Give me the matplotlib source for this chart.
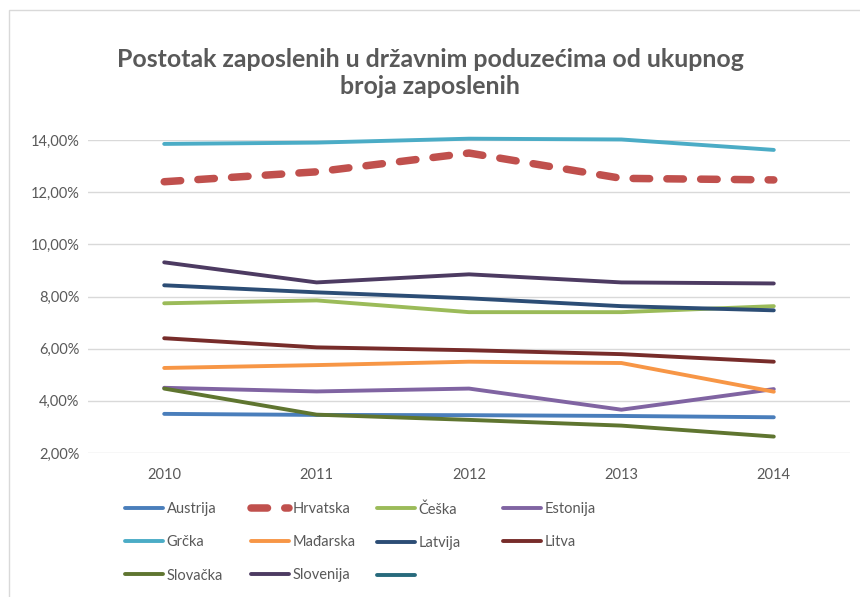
import matplotlib.pyplot as plt
from matplotlib.patches import Rectangle
from matplotlib.ticker import FuncFormatter

plt.rcParams['font.family'] = ['Lato', 'DejaVu Sans']

# Podaci (procijenjeno iz grafa), u postocima
godine = ["2010", "2011", "2012", "2013", "2014"]
austrija = [3.50, 3.46, 3.45, 3.42, 3.37]
hrvatska = [12.40, 12.78, 13.50, 12.53, 12.47]
ceska = [7.74, 7.85, 7.40, 7.40, 7.63]
estonija = [4.50, 4.36, 4.47, 3.66, 4.45]
grcka = [13.85, 13.90, 14.05, 14.02, 13.62]
madarska = [5.26, 5.37, 5.50, 5.45, 4.35]
latvija = [8.43, 8.16, 7.93, 7.63, 7.47]
litva = [6.40, 6.05, 5.94, 5.79, 5.50]
slovacka = [4.47, 3.47, 3.27, 3.05, 2.63]
slovenija = [9.31, 8.54, 8.85, 8.54, 8.50]

serije = [
    ("Austrija", austrija, "#4A7EBB"),
    ("Hrvatska", hrvatska, "#C0504D"),
    ("Češka", ceska, "#9BBB59"),
    ("Estonija", estonija, "#8064A2"),
    ("Grčka", grcka, "#4BACC6"),
    ("Mađarska", madarska, "#F79646"),
    ("Latvija", latvija, "#2C4D75"),
    ("Litva", litva, "#772C2A"),
    ("Slovačka", slovacka, "#5F7530"),
    ("Slovenija", slovenija, "#4D3B62"),
    (" ", None, "#276A7C"),
]

siva = "#595959"

fig = plt.figure(figsize=(8.6, 5.97), dpi=100)
ax = fig.add_axes([88 / 860, 1 - 453 / 597, (850 - 88) / 860, (453 - 140) / 597])

# okvir grafikona
fig.patches.append(Rectangle((9 / 860, -0.1), 1.2, 1 - 10 / 597 + 0.1, transform=fig.transFigure,
                             fill=False, edgecolor="#D9D9D9", lw=1))

x = list(range(len(godine)))
handles = []
for ime, vrijednosti, boja in serije:
    if vrijednosti is None:
        h, = ax.plot([], [], color=boja, lw=2.8, solid_capstyle="round", label=ime)
    elif ime == "Hrvatska":
        h, = ax.plot(x, vrijednosti, color=boja, lw=5.4, dashes=(2.2, 2.3),
                     dash_capstyle="round", clip_on=False, label=ime, zorder=3)
    else:
        h, = ax.plot(x, vrijednosti, color=boja, lw=2.8, solid_capstyle="round",
                     solid_joinstyle="round", clip_on=False, label=ime, zorder=3)
    handles.append(h)

ax.set_xlim(-0.5, 4.5)
ax.set_ylim(2, 14)
ax.set_yticks([2, 4, 6, 8, 10, 12, 14])
ax.yaxis.set_major_formatter(FuncFormatter(lambda v, p: f"{v:.2f}%".replace(".", ",")))
ax.set_xticks(x)
ax.set_xticklabels(godine)
ax.grid(axis="y", color="#D9D9D9", lw=1)
ax.set_axisbelow(True)
for s in ax.spines.values():
    s.set_visible(False)
ax.tick_params(length=0, colors=siva, labelsize=10.5)
ax.tick_params(axis="x", pad=11)
ax.tick_params(axis="y", pad=6)

fig.text(0.5, 1 - 73 / 597, "Postotak zaposlenih u državnim poduzećima od ukupnog\nbroja zaposlenih",
         ha="center", va="center", fontsize=17.9, fontweight="bold", color=siva, linespacing=1.2)

# legenda: Excel ide po redovima, 4 stupca
for k in range(4):
    stupac = handles[k::4]
    leg = fig.legend(handles=stupac, labels=[h.get_label() for h in stupac],
                     loc="upper left", frameon=False, fontsize=10.5, handlelength=2.6,
                     handletextpad=0.25, labelspacing=1.32, borderaxespad=0, borderpad=0)
    leg.set_bbox_to_anchor(((125 + 126 * k) / 860, 1 - 502 / 597), transform=fig.transFigure)
    for t in leg.get_texts():
        t.set_color(siva)

fig.savefig("out.png", dpi=100)
